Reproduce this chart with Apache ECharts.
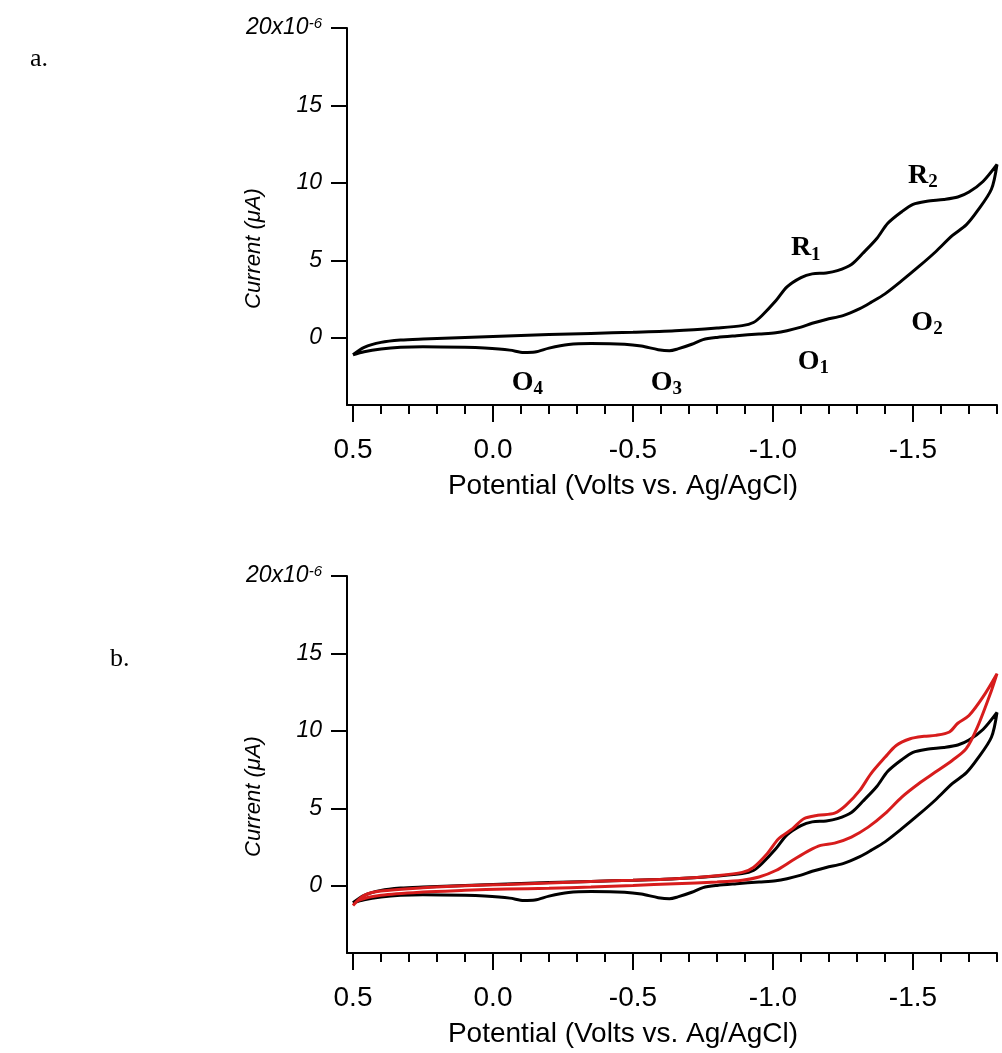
<!DOCTYPE html>
<html>
<head>
<meta charset="utf-8">
<script src="https://cdn.jsdelivr.net/npm/echarts@6/dist/echarts.min.js"></script>
<style>
  html, body { margin: 0; padding: 0; background: #fff; }
  #main { width: 1002px; height: 1053px; }
</style>
</head>
<body>
<div id="main"></div>
<script>
// potential (V vs Ag/AgCl) and current (uA)
// black CV: forward scan 0.5 -> -1.8
var blackFwdV = [0.50, 0.46, 0.40, 0.33, 0.25, 0.10, -0.05, -0.20, -0.35, -0.50, -0.65, -0.80, -0.89, -0.93, -0.96, -1.01, -1.05, -1.10, -1.14, -1.19, -1.23, -1.28, -1.32, -1.37, -1.41, -1.46, -1.50, -1.55, -1.61, -1.66, -1.70, -1.75, -1.80];
var blackFwdI = [-1.08, -0.60, -0.28, -0.13, -0.06, 0.04, 0.13, 0.22, 0.30, 0.37, 0.47, 0.65, 0.80, 1.00, 1.44, 2.40, 3.30, 3.90, 4.14, 4.20, 4.35, 4.75, 5.45, 6.40, 7.40, 8.15, 8.62, 8.82, 8.94, 9.10, 9.42, 10.10, 11.20];
// black CV: return scan -1.8 -> 0.5
var blackRevV = [-1.80, -1.78, -1.73, -1.69, -1.64, -1.58, -1.52, -1.46, -1.40, -1.35, -1.31, -1.25, -1.19, -1.14, -1.10, -1.05, -1.01, -0.95, -0.87, -0.80, -0.75, -0.71, -0.66, -0.63, -0.59, -0.53, -0.47, -0.35, -0.27, -0.20, -0.15, -0.11, -0.06, 0.03, 0.10, 0.25, 0.33, 0.40, 0.46, 0.50];
var blackRevI = [11.20, 9.60, 8.20, 7.30, 6.60, 5.55, 4.60, 3.70, 2.85, 2.30, 1.90, 1.45, 1.20, 0.95, 0.70, 0.47, 0.34, 0.26, 0.15, 0.04, -0.10, -0.40, -0.70, -0.82, -0.75, -0.52, -0.40, -0.36, -0.42, -0.65, -0.90, -0.93, -0.78, -0.65, -0.60, -0.56, -0.60, -0.71, -0.88, -1.08];
// red CV (panel b)
var redFwdV = [0.50, 0.46, 0.40, 0.25, 0.10, -0.05, -0.20, -0.35, -0.50, -0.65, -0.80, -0.89, -0.93, -0.98, -1.02, -1.07, -1.11, -1.16, -1.22, -1.26, -1.31, -1.35, -1.40, -1.44, -1.49, -1.54, -1.58, -1.63, -1.66, -1.70, -1.75, -1.80];
var redFwdI = [-1.25, -0.60, -0.32, -0.11, 0.02, 0.10, 0.20, 0.30, 0.37, 0.47, 0.67, 0.88, 1.20, 2.10, 3.05, 3.70, 4.34, 4.56, 4.70, 5.20, 6.17, 7.25, 8.30, 9.07, 9.50, 9.66, 9.72, 9.94, 10.50, 11.00, 12.20, 13.70];
var redRevV = [-1.80, -1.78, -1.73, -1.69, -1.64, -1.58, -1.52, -1.46, -1.40, -1.34, -1.28, -1.22, -1.17, -1.13, -1.07, -1.01, -0.95, -0.89, -0.80, -0.65, -0.50, -0.35, -0.20, -0.05, 0.10, 0.25, 0.40, 0.48, 0.50];
var redRevI = [13.70, 12.60, 10.25, 8.86, 8.10, 7.35, 6.60, 5.74, 4.67, 3.80, 3.16, 2.77, 2.62, 2.30, 1.66, 1.00, 0.58, 0.37, 0.26, 0.15, 0.04, -0.06, -0.15, -0.19, -0.28, -0.39, -0.60, -0.92, -1.25];

// axis ticks
var xMajorTicks = [0.5, 0.0, -0.5, -1.0, -1.5];
var xMinorTicks = [0.5, 0.4, 0.3, 0.2, 0.1, 0.0, -0.1, -0.2, -0.3, -0.4, -0.5, -0.6, -0.7, -0.8, -0.9, -1.0, -1.1, -1.2, -1.3, -1.4, -1.5, -1.6, -1.7, -1.8];
var yTicks = [0, 5, 10, 15, 20];

// peak labels in panel a (name, subscript, potential, current)
var peakNames = ['R', 'R', 'O', 'O', 'O', 'O'];
var peakSubs = ['1', '2', '1', '2', '3', '4'];
var peakV = [-1.117, -1.535, -1.144, -1.55, -0.619, -0.123];
var peakI = [5.8, 10.5, -1.53, 0.97, -2.9, -2.9];

var sans = '"Liberation Sans", Arial, sans-serif';
var serif = '"Liberation Serif", "Times New Roman", serif';

function loop(fv, fi, rv, ri) {
  var d = [];
  for (var i = 0; i < fv.length; i++) d.push([fv[i], fi[i]]);
  for (var j = 1; j < rv.length; j++) d.push([rv[j], ri[j]]);
  return d;
}

function minorAxis(grid) {
  return {
    type: 'value', gridIndex: grid, position: 'bottom', inverse: true,
    min: -1.8, max: 0.5214,
    axisLine: { show: true, onZero: false, lineStyle: { color: '#000', width: 2 } },
    axisTick: { show: true, customValues: xMinorTicks, length: 9, lineStyle: { color: '#000', width: 2 } },
    axisLabel: { show: false },
    splitLine: { show: false }
  };
}
function majorAxis(grid) {
  return {
    type: 'value', gridIndex: grid, position: 'bottom', inverse: true,
    min: -1.8, max: 0.5214,
    axisLine: { show: false, onZero: false },
    axisTick: { show: true, customValues: xMajorTicks, length: 17, lineStyle: { color: '#000', width: 2 } },
    axisLabel: {
      show: true, customValues: xMajorTicks, margin: 31,
      fontSize: 28, color: '#000', fontFamily: sans,
      formatter: function (v) { return v.toFixed(1); }
    },
    splitLine: { show: false },
    name: 'Potential (Volts vs. Ag/AgCl)',
    nameLocation: 'middle', nameGap: 67, nameMoveOverlap: false,
    nameTextStyle: { fontSize: 28, color: '#000', fontFamily: sans, padding: [0, 98, 0, 0] }
  };
}
function yAxis(grid) {
  return {
    type: 'value', gridIndex: grid, min: -4.32, max: 20,
    axisLine: { show: true, onZero: false, lineStyle: { color: '#000', width: 2 } },
    axisTick: { show: true, customValues: yTicks, length: 16, lineStyle: { color: '#000', width: 2 } },
    axisLabel: {
      show: true, customValues: yTicks, margin: 25,
      formatter: function (v) { return v === 20 ? '{m|20x10}{s|-6}' : '{m|' + v + '}'; },
      rich: {
        m: { fontSize: 23, fontStyle: 'italic', fontFamily: sans, color: '#000', lineHeight: 23, verticalAlign: 'bottom' },
        s: { fontSize: 15, fontStyle: 'italic', fontFamily: sans, color: '#000', lineHeight: 15, verticalAlign: 'top', padding: [0, 0, 16, 0] }
      }
    },
    splitLine: { show: false },
    name: 'Current (\u03bcA)', nameLocation: 'middle', nameRotate: 90, nameGap: 82, nameMoveOverlap: false,
    nameTextStyle: { fontSize: 22, fontStyle: 'italic', color: '#000', fontFamily: sans, padding: [0, 64, 0, 0] }
  };
}

var peakMarks = [];
for (var k = 0; k < peakNames.length; k++) {
  peakMarks.push({
    coord: [peakV[k], peakI[k]],
    label: { formatter: '{b|' + peakNames[k] + '}{sub|' + peakSubs[k] + '}' }
  });
}

var chart = echarts.init(document.getElementById('main'));
var option = {
  animation: false,
  backgroundColor: '#fff',
  grid: [
    { left: 347, top: 28, width: 650, height: 377 },
    { left: 347, top: 576, width: 650, height: 377 }
  ],
  xAxis: [minorAxis(0), majorAxis(0), minorAxis(1), majorAxis(1)],
  yAxis: [yAxis(0), yAxis(1)],
  graphic: [
    { type: 'text', left: 30, top: 46, style: { text: 'a.', fontSize: 26, fontFamily: serif, fill: '#000' } },
    { type: 'text', left: 110, top: 646, style: { text: 'b.', fontSize: 26, fontFamily: serif, fill: '#000' } }
  ],
  series: [
    {
      type: 'line', xAxisIndex: 0, yAxisIndex: 0,
      data: loop(blackFwdV, blackFwdI, blackRevV, blackRevI),
      showSymbol: false, smooth: 0.3,
      lineStyle: { color: '#000', width: 3 },
      markPoint: {
        symbol: 'circle', symbolSize: 0, silent: true,
        itemStyle: { color: 'rgba(0,0,0,0)' },
        label: {
          show: true, position: 'inside',
          rich: {
            b: { fontSize: 28, fontWeight: 'bold', fontFamily: serif, color: '#000', lineHeight: 30 },
            sub: { fontSize: 19, fontWeight: 'bold', fontFamily: serif, color: '#000', lineHeight: 19, padding: [13, 0, 0, 0] }
          }
        },
        data: peakMarks
      }
    },
    {
      type: 'line', xAxisIndex: 2, yAxisIndex: 1,
      data: loop(blackFwdV, blackFwdI, blackRevV, blackRevI),
      showSymbol: false, smooth: 0.3,
      lineStyle: { color: '#000', width: 3 }
    },
    {
      type: 'line', xAxisIndex: 2, yAxisIndex: 1,
      data: loop(redFwdV, redFwdI, redRevV, redRevI),
      showSymbol: false, smooth: 0.3,
      lineStyle: { color: '#d71c1c', width: 3 }
    }
  ]
};
chart.setOption(option);
</script>
</body>
</html>
